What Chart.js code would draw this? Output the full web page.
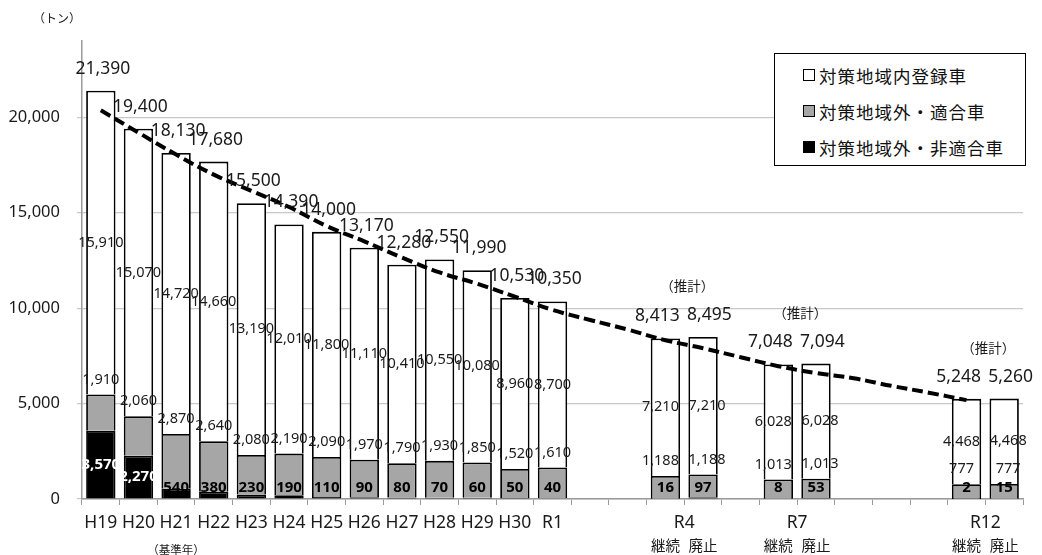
<!DOCTYPE html>
<html lang="ja">
<head>
<meta charset="utf-8">
<title>対策地域内登録車 推移</title>
<script src="https://cdn.jsdelivr.net/npm/chart.js@4"></script>
<style>
  body { margin: 0; background: #fff; }
  #wrap { position: relative; width: 1042px; height: 555px; }
  #legendBox {
    position: absolute; left: 774px; top: 53px; width: 252px; height: 113px;
    border: 1.5px solid #000; background: #fff; box-sizing: border-box;
    font-family: "Noto Sans CJK JP", sans-serif; font-size: 17.5px; color: #111;
    padding-top: 3px; letter-spacing: 1px;
  }
  #legendBox .item { display: flex; align-items: center; height: 36px; padding-left: 28px; }
  #legendBox .sw { width: 10px; height: 10px; border: 1px solid #000; margin-right: 4px; }
</style>
</head>
<body>
<div id="wrap">
  <canvas id="trendChart" width="1042" height="555"></canvas>
  <div id="legendBox"></div>
</div>
<script>
const FONT = '"Noto Sans", "Noto Sans CJK JP", sans-serif';

// x slots: 13 fiscal years, then gaps and the two-bar estimate groups
const tickLabels = ['H19', 'H20', 'H21', 'H22', 'H23', 'H24', 'H25', 'H26', 'H27', 'H28', 'H29', 'H30', 'R1',
  '', '', '', '', '', '', '', '', '', '', '', ''];
const subLabels = ['', '', '', '', '', '', '', '', '', '', '', '', '',
  '', '', '継続', '廃止', '', '継続', '廃止', '', '', '', '継続', '廃止'];
const groupNames = ['R4', 'R7', 'R12'];
const baseYearNote = '（基準年）';
const estimateNote = '（推計）';
const unitLabel = '（トン）';

const seriesNames = ['対策地域外・非適合車', '対策地域外・適合車', '対策地域内登録車'];

const nonCompliant = [3570, 2270, 540, 380, 230, 190, 110, 90, 80, 70, 60, 50, 40,
  null, null, 16, 97, null, 8, 53, null, null, null, 2, 15];
const compliant = [1910, 2060, 2870, 2640, 2080, 2190, 2090, 1970, 1790, 1930, 1850, 1520, 1610,
  null, null, 1188, 1188, null, 1013, 1013, null, null, null, 777, 777];
const registered = [15910, 15070, 14720, 14660, 13190, 12010, 11800, 11110, 10410, 10550, 10080, 8960, 8700,
  null, null, 7210, 7210, null, 6028, 6028, null, null, null, 4468, 4468];
const totals = [21390, 19400, 18130, 17680, 15500, 14390, 14000, 13170, 12280, 12550, 11990, 10530, 10350,
  null, null, 8413, 8495, null, 7048, 7094, null, null, null, 5248, 5260];

// dashed trend curve
const trend = [20370, 19200, 18050, 17000, 16150, 15300, 14300, 13500, 12650, 11870, 11280, 10600, 9910,
  9380, 8880, 8320, 7900, 7430, 6960, 6600, 6330, 5930, 5570, 5180, null];

const yTicks = [0, 5000, 10000, 15000, 20000];

const fmt = (v) => v.toLocaleString('en-US');

const colors = ['#000000', '#a6a6a6', '#ffffff'];

// legend (top = white series)
const legendBox = document.getElementById('legendBox');
[2, 1, 0].forEach((i) => {
  const row = document.createElement('div');
  row.className = 'item';
  row.innerHTML = '<span class="sw" style="background:' + colors[i] + '"></span>' + seriesNames[i];
  legendBox.appendChild(row);
});

const labelPlugin = {
  id: 'barLabels',
  afterDatasetsDraw(chart) {
    const { ctx } = chart;
    const mBlack = chart.getDatasetMeta(0);
    const mGray = chart.getDatasetMeta(1);
    const mWhite = chart.getDatasetMeta(2);
    ctx.save();
    ctx.textAlign = 'center';
    ctx.textBaseline = 'middle';
    registered.forEach((v, i) => {
      if (v == null) return;
      const b = mBlack.data[i], g = mGray.data[i], w = mWhite.data[i];
      // pair bars: spread the labels apart a little so they do not collide
      const spread = subLabels[i] === '継続' ? -5 : subLabels[i] === '廃止' ? 4 : 0;
      ctx.fillStyle = '#1a1a1a';
      ctx.font = '14.5px ' + FONT;
      ctx.fillText(fmt(v), w.x + spread, (w.y + w.base) / 2);
      ctx.fillText(fmt(compliant[i]), g.x + spread, g.y - 15);
      const h = b.base - b.y;
      ctx.font = 'bold 15px ' + FONT;
      ctx.fillStyle = h > 20 ? '#fff' : '#000';
      ctx.fillText(fmt(nonCompliant[i]), b.x, Math.min((b.y + b.base) / 2, b.base - 11));
      ctx.font = '17.5px ' + FONT;
      ctx.fillStyle = '#1a1a1a';
      ctx.fillText(fmt(totals[i]), w.x + (spread ? spread * 1.6 : 2), w.y - 22);
    });
    ctx.restore();
  },
  afterDraw(chart) {
    const { ctx } = chart;
    const x = chart.scales.x;
    const mWhite = chart.getDatasetMeta(2);
    const bottom = chart.chartArea.bottom;
    ctx.save();
    ctx.textAlign = 'center';
    ctx.textBaseline = 'middle';
    ctx.fillStyle = '#1a1a1a';

    ctx.font = '12px "Noto Sans CJK JP", sans-serif';
    ctx.fillText(unitLabel, 57, 18);

    ctx.font = '11.5px "Noto Sans CJK JP", sans-serif';
    ctx.fillText(baseYearNote, x.getPixelForValue(2), bottom + 51);

    let g = 0;
    subLabels.forEach((s, i) => {
      if (!s) return;
      ctx.font = '14.5px "Noto Sans CJK JP", sans-serif';
      ctx.fillText(s, x.getPixelForValue(i), bottom + 46);
      if (s === '継続') {
        const cx = (x.getPixelForValue(i) + x.getPixelForValue(i + 1)) / 2;
        ctx.font = '17.5px ' + FONT;
        ctx.fillText(groupNames[g], cx, bottom + 24);
        const top = Math.min(mWhite.data[i].y, mWhite.data[i + 1].y);
        ctx.font = '13.5px "Noto Sans CJK JP", sans-serif';
        ctx.fillText(estimateNote, cx + 3, top - 51);
        g++;
      }
    });
    ctx.restore();
  }
};

new Chart(document.getElementById('trendChart').getContext('2d'), {
  type: 'bar',
  data: {
    labels: tickLabels,
    datasets: [
      { label: seriesNames[0], data: nonCompliant, backgroundColor: colors[0], borderColor: '#000', borderWidth: 1.8, order: 1 },
      { label: seriesNames[1], data: compliant, backgroundColor: colors[1], borderColor: '#000', borderWidth: 1.8, order: 1 },
      { label: seriesNames[2], data: registered, backgroundColor: colors[2], borderColor: '#000', borderWidth: 1.8, order: 1 },
      {
        type: 'line',
        label: 'trend',
        data: trend,
        stack: 'trend',
        borderColor: '#000',
        borderWidth: 4,
        borderDash: [11, 5],
        pointRadius: 0,
        tension: 0.4,
        fill: false,
        order: 0,
      },
    ],
  },
  options: {
    responsive: false,
    animation: false,
    layout: { padding: { left: 0, right: 19, top: 41, bottom: 0 } },
    datasets: { bar: { categoryPercentage: 1, barPercentage: 0.78 } },
    plugins: {
      legend: { display: false },
      tooltip: { enabled: false },
    },
    scales: {
      x: {
        stacked: true,
        afterFit: (scale) => { scale.height = 56; },
        border: { color: '#9a9a9a', width: 1.5 },
        grid: {
          offset: true,
          drawOnChartArea: false,
          tickLength: 6,
          color: '#9a9a9a',
        },
        ticks: {
          autoSkip: false,
          maxRotation: 0,
          padding: 8,
          color: '#1a1a1a',
          font: { size: 17.5, family: FONT },
        },
      },
      y: {
        stacked: true,
        min: 0,
        max: 24000,
        afterFit: (scale) => { scale.width = 82; },
        afterBuildTicks: (scale) => { scale.ticks = yTicks.map((v) => ({ value: v })); },
        border: { color: '#9a9a9a', width: 1.5 },
        grid: {
          color: '#c8c8c8',
          lineWidth: 1.2,
          tickLength: 5,
        },
        ticks: {
          padding: 17,
          color: '#1a1a1a',
          font: { size: 16.5, family: FONT },
          callback: (value) => fmt(value),
        },
      },
    },
  },
  plugins: [labelPlugin],
});
</script>
</body>
</html>
